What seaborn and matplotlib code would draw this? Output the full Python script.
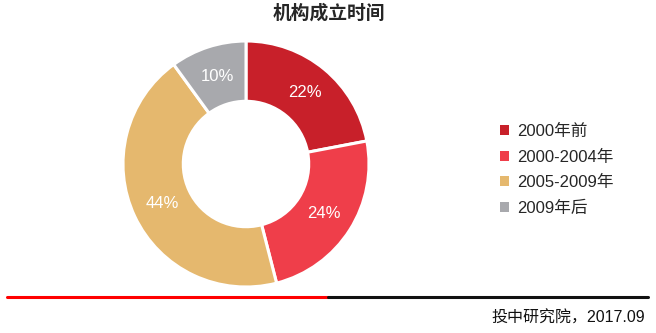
import matplotlib
matplotlib.use("Agg")
import matplotlib.pyplot as plt
import seaborn as sns
from matplotlib.lines import Line2D
from matplotlib.patches import Patch

categories = ["2000年前", "2000-2004年", "2005-2009年", "2009年后"]
values = [22, 24, 44, 10]
colors = ["#C8202A", "#EF3E4A", "#E5B86E", "#A8A9AD"]
title = "机构成立时间"
source = "投中研究院，2017.09"

sns.set_theme(style="white")
plt.rcParams['font.family'] = ['Liberation Sans', 'Noto Sans CJK SC', 'DejaVu Sans']

W, H = 656, 333
fig = plt.figure(figsize=(W / 100, H / 100), dpi=100)
fig.patch.set_facecolor("white")

cx, cy, r = 246, 164, 123
ax = fig.add_axes([(cx - r) / W, (H - cy - r) / H, 2 * r / W, 2 * r / H])
wedges, texts, autotexts = ax.pie(
    values, colors=colors, startangle=90, counterclock=False,
    autopct=lambda p: f"{p:.0f}%", pctdistance=0.75,
    wedgeprops=dict(width=0.49, edgecolor="white", linewidth=2.2),
    textprops=dict(color="white", fontsize=12),
)
ax.set_xlim(-1, 1)
ax.set_ylim(-1, 1)
ax.set_aspect("equal")
ax.axis("off")

fig.text(329 / W, 1 - 13 / H, title, ha="center", va="center", fontsize=13.5,
         fontweight="bold", family=['Noto Sans CJK SC', 'DejaVu Sans'])

handles = [Patch(facecolor=c, edgecolor="none") for c in colors]
leg = fig.legend(handles, categories, loc="center left",
                 bbox_to_anchor=(485 / W, 1 - 170 / H), frameon=False,
                 fontsize=12, handlelength=0.55, handleheight=0.55,
                 handletextpad=0.45, labelspacing=0.62)

y_line = 1 - 297 / H
fig.add_artist(Line2D([7 / W, 328 / W], [y_line, y_line], color="#FF0000", lw=2.2))
fig.add_artist(Line2D([328 / W, 648 / W], [y_line, y_line], color="#111111", lw=2.2))

fig.text(645 / W, 1 - 318 / H, source, ha="right", va="center", fontsize=11.5,
         color="#111111")

fig.savefig("out.png", dpi=100, facecolor="white")
